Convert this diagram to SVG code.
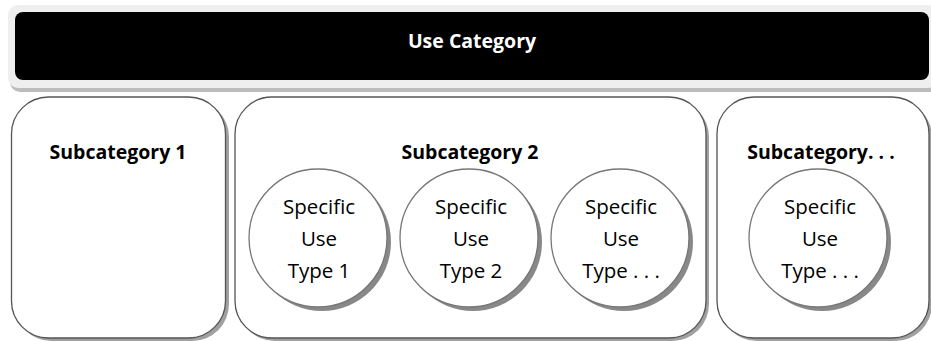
<svg xmlns="http://www.w3.org/2000/svg" width="931" height="341" viewBox="0 0 931 341">
<style>
.bold{font-family:"Open Sans","Liberation Sans",sans-serif;font-weight:bold;font-size:19.5px;text-anchor:middle}
.reg{font-family:"Open Sans","Liberation Sans",sans-serif;font-size:20.5px;text-anchor:middle;fill:#000}
.box{fill:#fff;stroke:#555;stroke-width:1.3}
.boxsh{fill:#a0a0a0}
.circ{fill:#fff;stroke:#777;stroke-width:1.3}
.circsh{fill:#888}
</style>
<rect width="931" height="341" fill="#fff"/>
<g id="use-category">
<rect x="10" y="9" width="930" height="83" rx="10" fill="#bdbdbd"/>
<rect x="8" y="5" width="930" height="83" rx="10" fill="#efefef"/>
<rect x="15" y="12" width="914" height="68" rx="8" fill="#000"/>
<text class="bold" x="472" y="48" fill="#fff">Use Category</text>
</g>
<g id="subcategory-1">
<rect class="boxsh" x="14.5" y="100" width="214.5" height="241" rx="37"/>
<rect class="box" x="11.5" y="97" width="214" height="241" rx="37"/>
<text class="bold" x="118" y="159">Subcategory 1</text>
</g>
<g id="subcategory-2">
<rect class="boxsh" x="238" y="100" width="471" height="241" rx="37"/>
<rect class="box" x="235" y="97" width="471" height="241" rx="37"/>
<text class="bold" x="470" y="159">Subcategory 2</text>
</g>
<g id="subcategory-3">
<rect class="boxsh" x="720" y="100" width="212" height="241" rx="37"/>
<rect class="box" x="717" y="97" width="212" height="241" rx="37"/>
<text class="bold" x="821" y="159">Subcategory. . .</text>
</g>
<g id="specific-use-type-1">
<circle class="circsh" cx="322" cy="242" r="69"/>
<circle class="circ" cx="318" cy="238" r="69"/>
<text class="reg" x="319" y="214">Specific</text>
<text class="reg" x="319" y="246">Use</text>
<text class="reg" x="319" y="278">Type 1</text>
</g>
<g id="specific-use-type-2">
<circle class="circsh" cx="473" cy="242" r="69"/>
<circle class="circ" cx="469" cy="238" r="69"/>
<text class="reg" x="471" y="214">Specific</text>
<text class="reg" x="471" y="246">Use</text>
<text class="reg" x="471" y="278">Type 2</text>
</g>
<g id="specific-use-type-3">
<circle class="circsh" cx="624" cy="242" r="69"/>
<circle class="circ" cx="620" cy="238" r="69"/>
<text class="reg" x="621" y="214">Specific</text>
<text class="reg" x="621" y="246">Use</text>
<text class="reg" x="621" y="278">Type . . .</text>
</g>
<g id="specific-use-type-4">
<circle class="circsh" cx="822" cy="242" r="69"/>
<circle class="circ" cx="818" cy="238" r="69"/>
<text class="reg" x="820" y="214">Specific</text>
<text class="reg" x="820" y="246">Use</text>
<text class="reg" x="820" y="278">Type . . .</text>
</g>
<g id="connectors"></g>
</svg>
